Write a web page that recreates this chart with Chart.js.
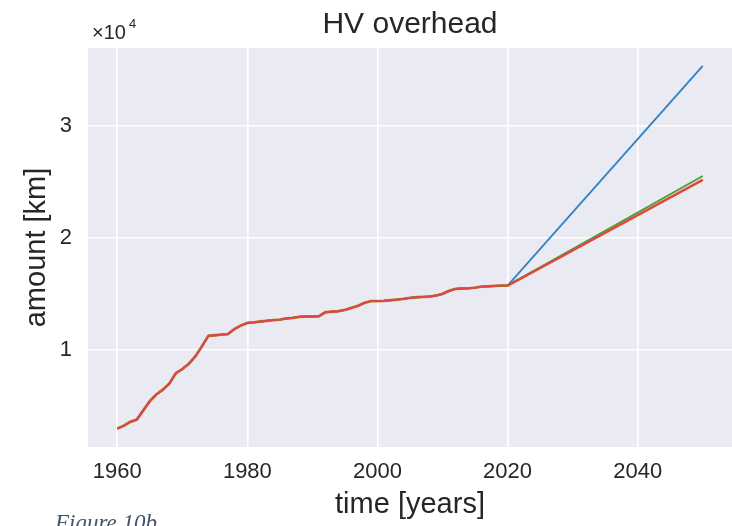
<!DOCTYPE html>
<html>
<head>
<meta charset="utf-8">
<script src="https://cdn.jsdelivr.net/npm/chart.js@4/dist/chart.umd.min.js"></script>
<style>
html,body{margin:0;padding:0;background:#fff;}
#wrap{width:732px;height:526px;position:relative;}
</style>
</head>
<body>
<div id="wrap"><canvas id="c" width="732" height="526"></canvas></div>
<script>
// ---- data ----
const histYears = [1960,1961,1962,1963,1964,1965,1966,1967,1968,1969,
  1970,1971,1972,1973,1974,1975,1976,1977,1978,1979,
  1980,1981,1982,1983,1984,1985,1986,1987,1988,1989,
  1990,1991,1992,1993,1994,1995,1996,1997,1998,1999,
  2000,2001,2002,2003,2004,2005,2006,2007,2008,2009,
  2010,2011,2012,2013,2014,2015,2016,2017,2018,2019,2020];
const histKm = [2950,3200,3550,3750,4580,5400,6000,6430,6970,7900,
  8270,8750,9400,10300,11250,11300,11350,11400,11850,12170,
  12400,12450,12530,12590,12650,12700,12800,12860,12950,12970,
  12980,13000,13360,13400,13450,13570,13750,13930,14200,14350,
  14350,14380,14430,14490,14550,14640,14700,14730,14760,14850,
  15000,15270,15450,15480,15500,15560,15650,15680,15710,15740,15740];
const projYear = 2050;
const projBlue = 35400;
const projOrange = 25200;
const projGreen = 25550;
const projRed = 25200;
const xTicks = [1960,1980,2000,2020,2040];
const yTicks = [10000,20000,30000];
const titleText = 'HV overhead';
const xLabel = 'time [years]';
const yLabel = 'amount [km]';
const captionText = 'Figure 10b';

function series(endVal){
  const pts = histYears.map((y,i)=>({x:y,y:histKm[i]}));
  pts.push({x:projYear,y:endVal});
  return pts;
}

const bgPlugin = {
  id:'bg',
  beforeDraw(chart){
    const {ctx, chartArea:a} = chart;
    ctx.save();
    ctx.fillStyle = '#EAEAF2';
    ctx.fillRect(a.left, a.top, a.right-a.left, a.bottom-a.top);
    ctx.restore();
  },
  afterDraw(chart){
    const {ctx, chartArea:a} = chart;
    ctx.save();
    ctx.fillStyle = '#262626';
    ctx.textAlign = 'center';
    ctx.textBaseline = 'middle';
    ctx.font = '30px "Liberation Sans", Arial, sans-serif';
    ctx.fillText(titleText, (a.left+a.right)/2, 25);
    // offset text
    ctx.textAlign = 'left';
    ctx.textBaseline = 'alphabetic';
    ctx.font = '20px "Liberation Sans", Arial, sans-serif';
    ctx.fillText('\u00d710', 92, 39);
    ctx.font = '13px "Liberation Sans", Arial, sans-serif';
    ctx.fillText('4', 129, 28);
    // caption
    ctx.fillStyle = '#44546A';
    ctx.font = 'italic 23px "Liberation Serif", "DejaVu Serif", serif';
    ctx.fillText(captionText, 55, 530);
    ctx.restore();
  }
};

const lw = 1.9;
new Chart(document.getElementById('c'), {
  type:'line',
  data:{
    datasets:[
      {label:'a', data:series(projBlue), borderColor:'#3185c6', borderWidth:lw, pointRadius:0, tension:0, order:4},
      {label:'b', data:series(projOrange), borderColor:'#d9782e', borderWidth:2.8, pointRadius:0, tension:0, order:3},
      {label:'c', data:series(projGreen), borderColor:'#4d9e32', borderWidth:lw, pointRadius:0, tension:0, order:2},
      {label:'d', data:series(projRed), borderColor:'#e2434b', borderWidth:lw, pointRadius:0, tension:0, order:1}
    ]
  },
  options:{
    responsive:false,
    animation:false,
    events:[],
    layout:{padding:{left:0,right:0,top:48,bottom:0}},
    plugins:{legend:{display:false}, tooltip:{enabled:false}, title:{display:false}},
    scales:{
      x:{
        type:'linear', min:1955.5, max:2054.5,
        afterBuildTicks(s){ s.ticks = xTicks.map(v=>({value:v})); },
        afterFit(s){ s.height = 79; },
        grid:{color:'#ffffff', lineWidth:1.6, drawTicks:false},
        border:{display:false},
        ticks:{color:'#262626', padding:12, font:{family:'"Liberation Sans", Arial, sans-serif', size:22}, callback:v=>String(v)},
        title:{display:true, text:xLabel, color:'#262626', font:{family:'"Liberation Sans", Arial, sans-serif', size:29}, padding:{top:0,bottom:4}}
      },
      y:{
        type:'linear', min:1300, max:37000,
        afterBuildTicks(s){ s.ticks = yTicks.map(v=>({value:v})); },
        afterFit(s){ s.width = 88; },
        grid:{color:'#ffffff', lineWidth:1.6, drawTicks:false},
        border:{display:false},
        ticks:{color:'#262626', padding:16, font:{family:'"Liberation Sans", Arial, sans-serif', size:22}, callback:v=>String(v/10000)},
        title:{display:true, text:yLabel, color:'#262626', font:{family:'"Liberation Sans", Arial, sans-serif', size:29}, padding:{top:20,bottom:0}}
      }
    }
  },
  plugins:[bgPlugin]
});
</script>
</body>
</html>
